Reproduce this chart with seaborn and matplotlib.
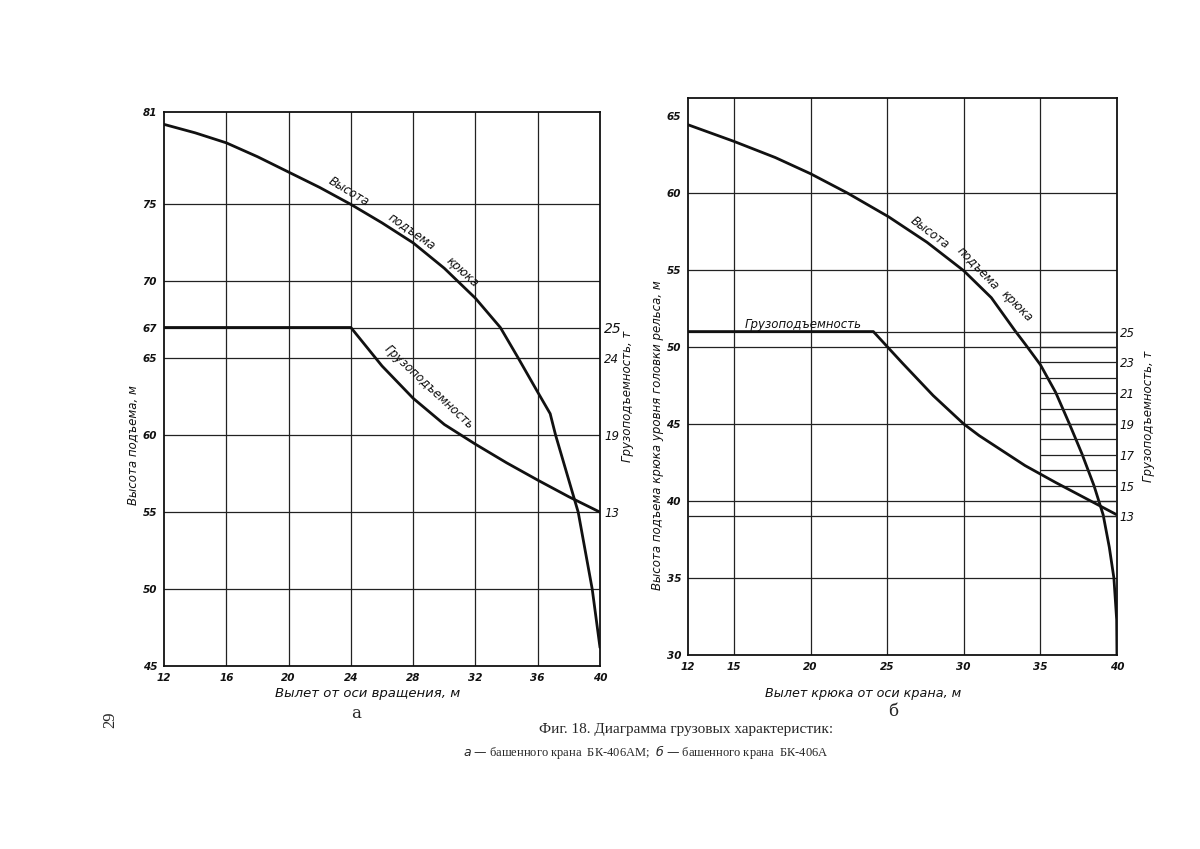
import matplotlib
matplotlib.use('Agg')
import matplotlib.pyplot as plt
import numpy as np
import seaborn as sns

# Diagram "а" - tower crane BK-406AM
a_reach = [12, 14, 16, 18, 20, 22, 24, 26, 28, 30, 32, 33.6, 34.7, 36, 36.8, 37.15,
           38.6, 39.5, 40]
a_height = [80.2, 79.65, 79.0, 78.1, 77.1, 76.1, 75.0, 73.8, 72.5, 70.85, 68.9, 67.0,
            65.1, 62.8, 61.4, 60.0, 55.0, 50.0, 46.2]
a_cap_reach = [12, 24, 26, 28, 30, 32, 34, 36, 38, 40]
a_cap_t = [25, 25, 23.5, 21.4, 19.7, 18.3, 16.85, 15.5, 14.2, 13.0]
# right-hand capacity scale of "а": tonnes against the height grid
a_cap_ticks = [13, 19, 24, 25]
a_cap_tick_m = [55, 60, 65, 67]
a_xticks = [12, 16, 20, 24, 28, 32, 36, 40]
a_yticks = [45, 50, 55, 60, 65, 67, 70, 75, 81]
a_hgrid = [50, 55, 60, 65, 67, 70, 75]

# Diagram "б" - tower crane BK-406A
b_reach = [12, 15, 17.7, 20, 22.4, 25.1, 27.6, 30, 31.8, 33.35, 34.0, 35.0, 36.0, 36.9,
           37.7, 38.5, 39.1, 39.5, 39.8, 39.98, 40]
b_height = [64.43, 63.35, 62.3, 61.25, 60.0, 58.45, 56.8, 54.95, 53.2, 51.05, 50.2, 48.85,
            47.05, 45.0, 43.1, 41.0, 39.1, 37.0, 35.0, 32.3, 30.0]
b_cap_reach = [12, 24.1, 26, 28, 30, 31, 32, 34, 36, 38, 40]
b_cap_t = [25, 25, 22.95, 20.85, 19.0, 18.25, 17.6, 16.3, 15.2, 14.15, 13.1]
b_xticks = [12, 15, 20, 25, 30, 35, 40]
b_yticks = [30, 35, 40, 45, 50, 55, 60, 65]
b_hgrid = [35, 40, 45, 50, 55, 60]
b_cap_ticks = [13, 15, 17, 19, 21, 23, 25]
b_cap_lines = list(range(13, 26))

sns.set_style('white')
plt.rcParams['font.family'] = ['DejaVu Sans']

fig = plt.figure(figsize=(12, 8.49), dpi=100)
ax_a = fig.add_axes([0.1367, 0.2155, 0.3633, 0.6525])
ax_b = fig.add_axes([0.5733, 0.2285, 0.3575, 0.6556])

lab = dict(fontstyle='italic', fontsize=8.5, color='#111')
tick = dict(fontstyle='italic', fontsize=7.5, fontweight='bold', color='#111')
rtick = dict(fontstyle='italic', fontsize=8.5, color='#111')
grid = dict(color='#222', lw=0.9, zorder=1)
curve = dict(color='#111', lw=2, sort=False, estimator=None, zorder=3)

# ---- chart а ----
ax = ax_a
ax.set_xlim(12, 40)
ax.set_ylim(45, 81)
for x in a_xticks[1:-1]:
    ax.axvline(x, **grid)
for y in a_hgrid:
    ax.axhline(y, **grid)
sns.lineplot(x=a_reach, y=a_height, ax=ax, **curve)
a_cap_m = np.interp(a_cap_t, a_cap_ticks, a_cap_tick_m)
sns.lineplot(x=a_cap_reach, y=a_cap_m, ax=ax, **curve)
ax.set_xticks(a_xticks)
ax.set_xticklabels([str(v) for v in a_xticks], **tick)
ax.set_yticks(a_yticks)
ax.set_yticklabels([str(v) for v in a_yticks], **tick)
ax.tick_params(length=0, pad=5)
ax2 = ax.twinx()
ax2.set_ylim(45, 81)
ax2.set_yticks(a_cap_tick_m)
ax2.set_yticklabels([str(v) for v in a_cap_ticks], **rtick)
ax2.get_yticklabels()[-1].set_fontsize(10)
ax2.tick_params(length=0, pad=3)
for s in ax2.spines.values():
    s.set_visible(False)

ax.text(23.9, 75.8, 'Высота', rotation=-31, ha='center', va='center', **lab)
ax.text(27.9, 73.25, 'подъема', rotation=-35, ha='center', va='center', **lab)
ax.text(31.15, 70.6, 'крюка', rotation=-42, ha='center', va='center', **lab)
ax.text(29.0, 63.1, 'Грузоподъемность', rotation=-43, ha='center', va='center', **lab)

# ---- chart б ----
ax = ax_b
ax.set_xlim(12, 40)
ax.set_ylim(30, 66.14)
for x in b_xticks[1:-1]:
    ax.axvline(x, **grid)
for y in b_hgrid:
    ax.axhline(y, **grid)
ax.set_xticks(b_xticks)
ax.set_xticklabels([str(v) for v in b_xticks], **tick)
ax.set_yticks(b_yticks)
ax.set_yticklabels([str(v) for v in b_yticks], **tick)
ax.tick_params(length=0, pad=5)
sns.lineplot(x=b_reach, y=b_height, ax=ax, **curve)

bx2 = ax.twinx()
bx2.set_ylim(30 - 26, 66.14 - 26)
bx2.hlines(b_cap_lines, 35, 40, color='#222', lw=0.9, zorder=1)
bx2.hlines([13, 25], 12, 40, color='#222', lw=0.9, zorder=1)
sns.lineplot(x=b_cap_reach, y=b_cap_t, ax=bx2, **curve)
bx2.set_xlim(12, 40)
bx2.set_yticks(b_cap_ticks)
bx2.set_yticklabels([str(v) for v in b_cap_ticks], **rtick)
bx2.tick_params(length=0, pad=2)
for s in bx2.spines.values():
    s.set_visible(False)

ax.text(27.8, 57.4, 'Высота', rotation=-37, ha='center', va='center', **lab)
ax.text(30.95, 55.15, 'подъема', rotation=-46, ha='center', va='center', **lab)
ax.text(33.45, 52.65, 'крюка', rotation=-45, ha='center', va='center', **lab)
ax.text(19.5, 51.45, 'Грузоподъемность', ha='center', va='center', **lab)

for a in (ax_a, ax_b):
    for s in a.spines.values():
        s.set_visible(True)
        s.set_color('#111')
        s.set_linewidth(1.3)

# axis titles and captions
fig.text(0.1108, 0.4759, 'Высота подъема, м', rotation=90, ha='center', va='center', **lab)
fig.text(0.5225, 0.5336, 'Грузоподъемность, т', rotation=90, ha='center', va='center', **lab)
fig.text(0.3067, 0.1837, 'Вылет от оси вращения, м', ha='center', va='center',
         fontstyle='italic', fontsize=9.5, color='#111')
fig.text(0.2967, 0.160, 'а', ha='center', va='center', family='DejaVu Serif', fontsize=12)
fig.text(0.5475, 0.4876, 'Высота подъема крюка уровня головки рельса, м', rotation=90,
         ha='center', va='center', **lab)
fig.text(0.9567, 0.51, 'Грузоподъемность, т', rotation=90, ha='center', va='center', **lab)
fig.text(0.7192, 0.1837, 'Вылет крюка от оси крана, м', ha='center', va='center',
         fontstyle='italic', fontsize=9.2, color='#111')
fig.text(0.744, 0.1614, 'б', ha='center', va='center', family='DejaVu Serif', fontsize=12)
fig.text(0.5717, 0.1402, 'Фиг. 18. Диаграмма грузовых характеристик:', ha='center', va='center',
         family='Liberation Serif', fontsize=11)
fig.text(0.5383, 0.1143, r'$\it{а}$ — башенного крана  БК-406АМ;  $\it{б}$ — башенного крана  БК-406А',
         ha='center', va='center', family='Liberation Serif', fontsize=9)
fig.text(0.0917, 0.152, '29', rotation=90, ha='center', va='center', family='Liberation Serif',
         fontsize=12)

fig.savefig('out.png', dpi=100, facecolor='white')
